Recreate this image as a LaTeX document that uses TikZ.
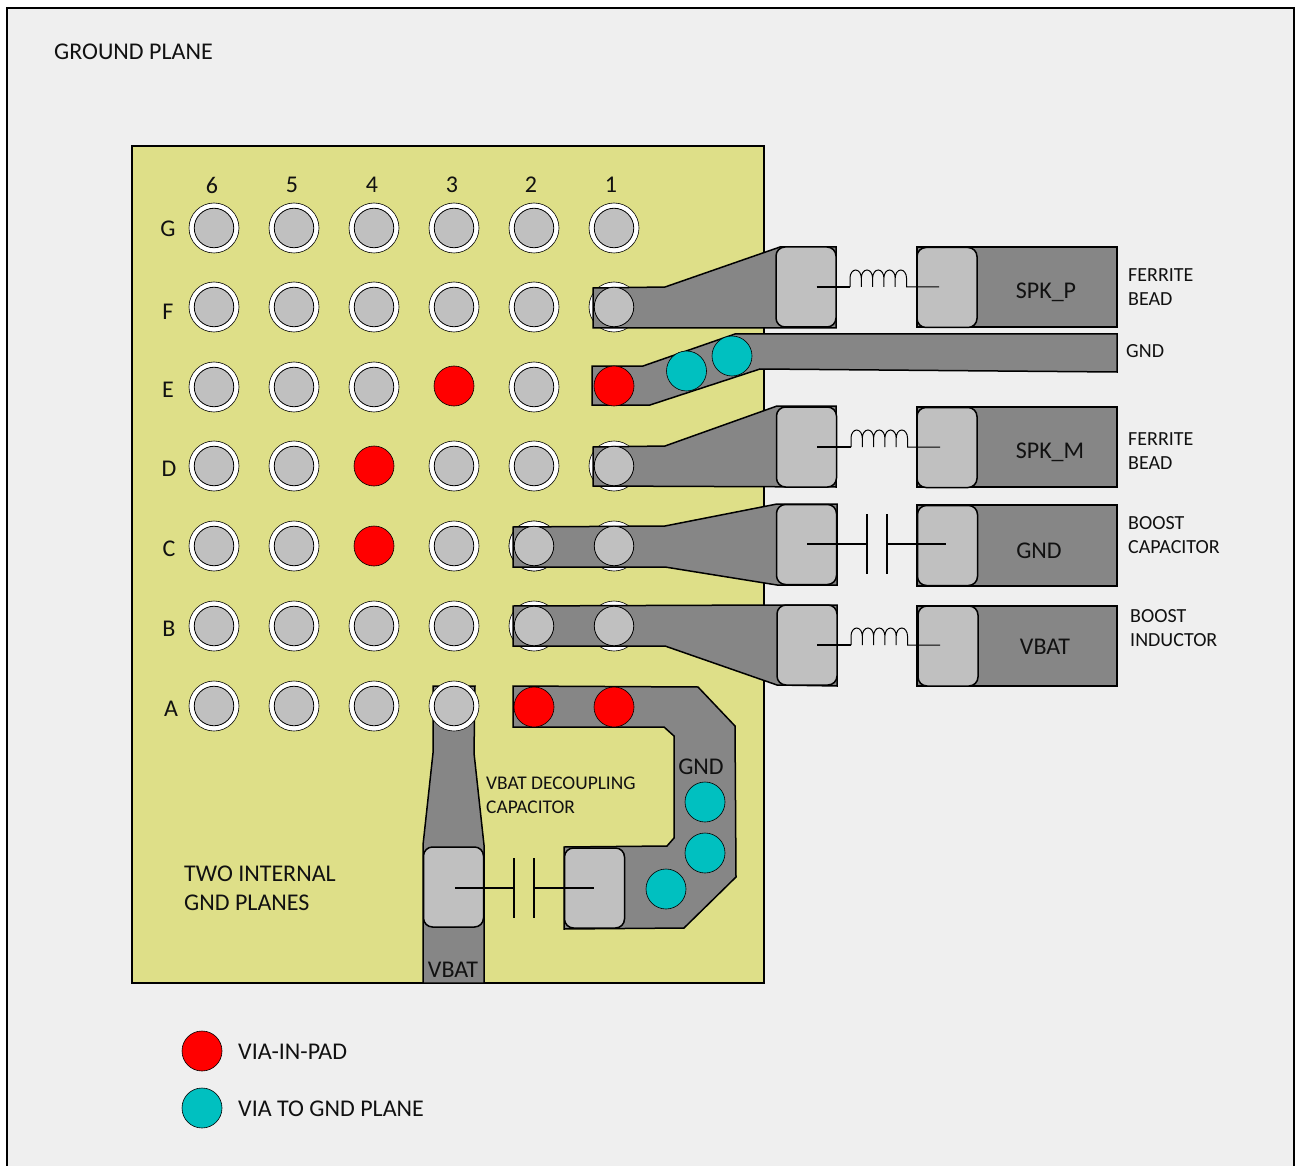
\documentclass[tikz,border=0pt]{standalone}
\usepackage{fontspec}
\setmainfont{Carlito}
\definecolor{bgc}{HTML}{EFEFEF}
\definecolor{boardc}{HTML}{DEDF88}
\definecolor{tracec}{HTML}{868686}
\definecolor{padc}{HTML}{C0C0C0}
\definecolor{viac}{HTML}{00C0C0}
\definecolor{txtc}{HTML}{111111}
\tikzset{
  trace/.style={draw=black,fill=tracec,line width=1.5pt,line join=miter},
  padbox/.style={draw=black,fill=padc,line width=1.5pt,rounded corners=9pt,minimum width=60pt,minimum height=80pt,inner sep=0pt},
  ringo/.style={circle,draw=black,fill=white,line width=0.6pt,minimum size=50pt,inner sep=0pt},
  balli/.style={circle,draw=black,fill=padc,line width=0.8pt,minimum size=39.5pt,inner sep=0pt},
  redvia/.style={circle,draw=black,fill=red,line width=0.6pt,minimum size=40pt,inner sep=0pt},
  cyanvia/.style={circle,draw=black,fill=viac,line width=0.6pt,minimum size=40pt,inner sep=0pt},
  wire/.style={draw=black,line width=1.1pt},
  lblb/.style={text=txtc,inner sep=0pt,align=left,anchor=west,font=\fontsize{24}{29}\selectfont},
  lblm/.style={text=txtc,inner sep=0pt,align=left,anchor=west,font=\fontsize{20}{24}\selectfont},
  lbls/.style={text=txtc,inner sep=0pt,align=left,anchor=west,font=\fontsize{19.4}{24}\selectfont},
  lblc/.style={text=txtc,inner sep=0pt,anchor=center,font=\fontsize{24}{25}\selectfont},
}
\newcommand{\coilfrom}[2]{%
  \draw[wire,line width=1pt] (#1) \foreach \k in {0,...,4} {
    -- ++(0,-9) arc[x radius=5.65,y radius=8,start angle=180,end angle=360] -- ++(0,9)
  } -- (#2);
}
\begin{document}
\begin{tikzpicture}[x=1pt,y=-1pt]
\useasboundingbox (0,0) rectangle (1296,1166);
\fill[white] (0,0) rectangle (1296,1166);
\fill[bgc] (7,8) rectangle (1294,1166);
\draw[black,line width=1.8pt] (7,1166) -- (7,8) -- (1294,8) -- (1294,1166);
\draw[fill=boardc,draw=black,line width=1.5pt] (132,146) rectangle (764,983);
\node[lblb] (title) at (54,51.5) {GROUND PLANE};
% column and row labels
\foreach \x/\t [count=\i] in {212/6,292/5,372/4,452/3,531/2,611/1} \node[lblc] (col\i) at (\x,185) {\t};
\foreach \x/\y/\t in {168/229/G,168/312/F,168/390/E,169/469/D,169/549/C,169/629/B,171/709/A} \node[lblc] (row\t) at (\x,\y) {\t};
% ordinary balls
\foreach \x in {214,294,374,454,534,614} {
  \node[ringo] (og\x) at (\x,228) {}; \node[balli] (ig\x) at (\x,228) {};
}
\foreach \x in {214,294,374,454,534} {
  \node[ringo] (of\x) at (\x,307) {}; \node[balli] (if\x) at (\x,307) {};
}
\foreach \x in {214,294,374,534} {
  \node[ringo] (oe\x) at (\x,387) {}; \node[balli] (ie\x) at (\x,387) {};
}
\foreach \x in {214,294,454,534} {
  \node[ringo] (od\x) at (\x,466) {}; \node[balli] (id\x) at (\x,466) {};
  \node[ringo] (oc\x) at (\x,546) {}; \node[balli] (ic\x) at (\x,546) {};
}
\foreach \x in {214,294,374,454} {
  \node[ringo] (ob\x) at (\x,626) {}; \node[balli] (ib\x) at (\x,626) {};
}
\foreach \x in {214,294,374} {
  \node[ringo] (oa\x) at (\x,706) {}; \node[balli] (ia\x) at (\x,706) {};
}
\node[redvia] (re3) at (454,386) {};
\node[redvia] (rd4) at (374,466) {};
\node[redvia] (rc4) at (374,546) {};
% rings under traces
\node[ringo] (of1) at (614,307) {};
\node[ringo] (od1) at (614,466) {};
\node[ringo] (oc2) at (534,546) {};
\node[ringo] (oc1) at (614,546) {};
\node[ringo] (ob2) at (534,626) {};
\node[ringo] (ob1) at (614,626) {};
% traces
\draw[trace] (593,288) -- (665,287) -- (780,247) -- (836,247) -- (836,328) -- (593,328) -- cycle;
\draw[trace] (592,366) -- (643,366) -- (735,334) -- (1117,334) -- (1117,372) -- (760,369) -- (650,405) -- (592,405) -- cycle;
\draw[trace] (593,447) -- (665,446) -- (777,406) -- (836,406) -- (836,487) -- (593,486) -- cycle;
\draw[trace] (513,527) -- (665,526) -- (777,504) -- (837,504) -- (837,585) -- (777,585) -- (665,567) -- (513,567) -- cycle;
\draw[trace] (513,606) -- (777,605) -- (837,605) -- (837,686) -- (777,685) -- (665,646) -- (513,646) -- cycle;
\draw[trace] (433,686) -- (475,686) -- (474,753) -- (484,845) -- (484,983) -- (423,983) -- (423,845) -- (433,753) -- cycle;
\draw[trace] (513,686) -- (698,687) -- (735,726) -- (736,877) -- (684,928) -- (564,929) -- (564,847) -- (667,846) -- (674,838) -- (674,736) -- (664,727) -- (513,727) -- cycle;
% right component bodies
\draw[trace] (917,247) rectangle (1117,327);
\draw[trace] (917,407) rectangle (1117,487);
\draw[trace] (917,505) rectangle (1117,586);
\draw[trace] (917,606) rectangle (1117,686);
% balls above traces
\node[balli] (if1) at (614,307) {};
\node[balli] (id1) at (614,466) {};
\node[balli] (ic2) at (534,546) {};
\node[balli] (ic1) at (614,546) {};
\node[balli] (ib2) at (534,626) {};
\node[balli] (ib1) at (614,626) {};
\node[ringo] (oa3) at (454,706) {};
\node[balli] (ia3) at (454,706) {};
\node[redvia] (re1) at (614,386) {};
\node[redvia] (ra2) at (534,707) {};
\node[redvia] (ra1) at (614,707) {};
\node[cyanvia] (ce1) at (686.5,371) {};
\node[cyanvia] (ce2) at (732,356) {};
\node[cyanvia] (cg1) at (705,802) {};
\node[cyanvia] (cg2) at (705,853) {};
\node[cyanvia] (cg3) at (666,889) {};
% pads
\node[padbox] (p1) at (806,287) {};
\node[padbox] (p2) at (947,287.5) {};
\node[padbox] (p3) at (806.5,447) {};
\node[padbox] (p4) at (947,447.5) {};
\node[padbox] (p5) at (806.5,544.5) {};
\node[padbox] (p6) at (947.5,545.5) {};
\node[padbox] (p7) at (807,645) {};
\node[padbox] (p8) at (948,646) {};
\node[padbox] (p9) at (453.5,887) {};
\node[padbox] (p10) at (594.5,888) {};
% inductors
\coordinate (l1a) at (850,287); \coordinate (l1b) at (939,287);
\draw[wire] (816.5,287) -- (l1a);
\coilfrom{l1a}{l1b}
\coordinate (l2a) at (851,447); \coordinate (l2b) at (940,447);
\draw[wire] (817,447) -- (l2a);
\coilfrom{l2a}{l2b}
\coordinate (l3a) at (851,645); \coordinate (l3b) at (940,645);
\draw[wire] (817,645) -- (l3a);
\coilfrom{l3a}{l3b}
% capacitors
\coordinate (c1a) at (807,544); \coordinate (c1b) at (867,544);
\coordinate (c1c) at (887,544); \coordinate (c1d) at (946,544);
\draw[wire] (c1a) -- (c1b) (c1c) -- (c1d);
\draw[wire] (867,514) -- (867,574) (887,514) -- (887,574);
\coordinate (c2a) at (455,888); \coordinate (c2b) at (514,888);
\coordinate (c2c) at (534,888); \coordinate (c2d) at (594,888);
\draw[wire] (c2a) -- (c2b) (c2c) -- (c2d);
\draw[wire] (514,858) -- (514,918) (534,858) -- (534,918);
% labels
\node[lblc] (tsp) at (1046,292.5) {SPK\_P};
\node[lblm] (tf1) at (1128,287) {FERRITE\\BEAD};
\node[lblm] (tg1) at (1126,351.5) {GND};
\node[lblc] (tsm) at (1050,452.5) {SPK\_M};
\node[lblm] (tf2) at (1128,451) {FERRITE\\BEAD};
\node[lblc] (tg2) at (1039,550.5) {GND};
\node[lblm] (tbc) at (1128,535) {BOOST\\CAPACITOR};
\node[lblc] (tvb) at (1045,646.5) {VBAT};
\node[lblm] (tbi) at (1130,628) {BOOST\\INDUCTOR};
\node[lblc] (tg3) at (701,766.5) {GND};
\node[lbls] (tdc) at (486,795) {VBAT DECOUPLING\\CAPACITOR};
\node[lblb] (tti) at (184,888) {TWO INTERNAL\\GND PLANES};
\node[lblc] (tvb2) at (453,969.5) {VBAT};
\node[redvia] (lg1) at (202,1051) {};
\node[cyanvia] (lg2) at (202,1108) {};
\node[lblb] (tl1) at (238,1051.5) {VIA-IN-PAD};
\node[lblb] (tl2) at (238,1108.5) {VIA TO GND PLANE};
\end{tikzpicture}
\end{document}
